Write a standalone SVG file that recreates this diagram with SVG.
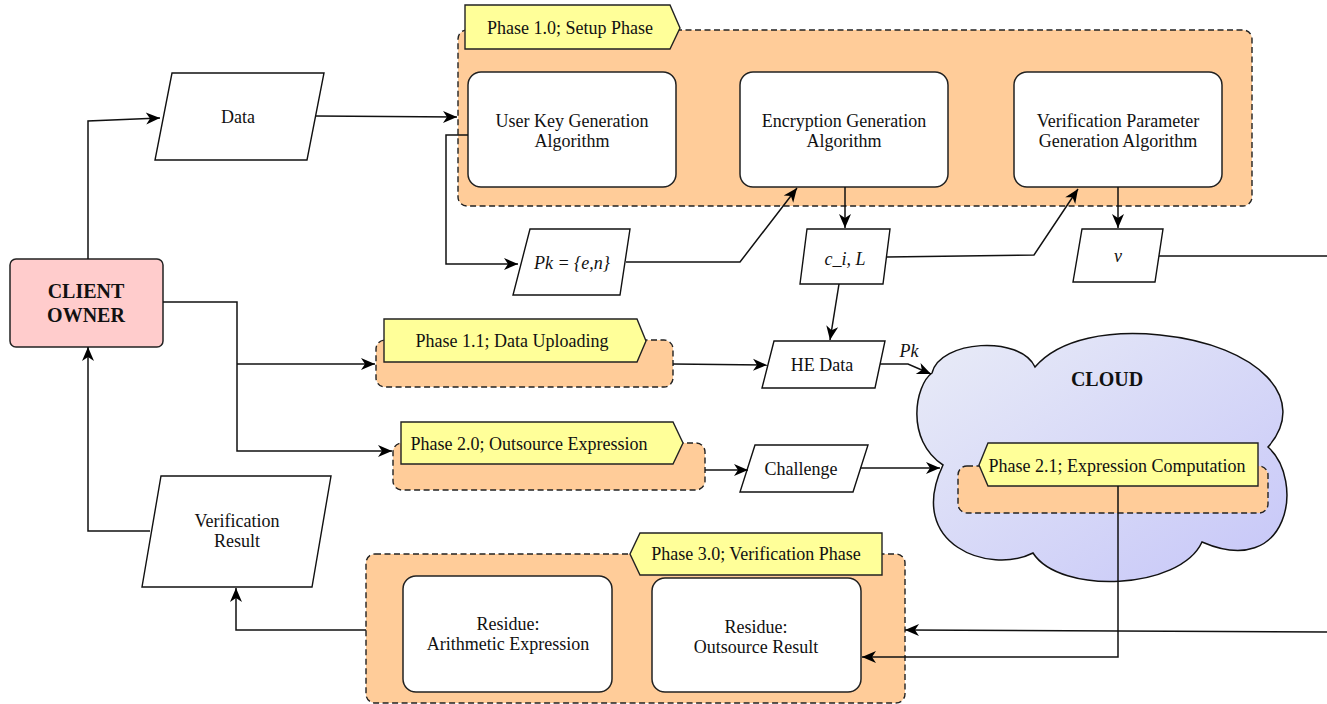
<svg xmlns="http://www.w3.org/2000/svg" width="1327" height="704" viewBox="0 0 1327 704">
<defs>
<style>
.t{font-family:"Liberation Serif","Times New Roman",Times,serif;font-size:18px;fill:#111;text-anchor:middle}
.i{font-style:italic}
.b{font-weight:bold;font-size:20px}
.grp{fill:#FFCC99;stroke:#222;stroke-width:1.4;stroke-dasharray:6 3.5}
.tab{fill:#FFFF99;stroke:#222;stroke-width:1.4}
.box{fill:#fff;stroke:#222;stroke-width:1.5}
.io{fill:#fff;stroke:#111;stroke-width:1.4}
.ln{fill:none;stroke:#111;stroke-width:1.5}
</style>
<marker id="ah" markerUnits="userSpaceOnUse" markerWidth="15" markerHeight="13" refX="14" refY="6" orient="auto" overflow="visible">
<path d="M0,0 L14,6 L0,12 L4,6 Z" fill="#000"/>
</marker>
<linearGradient id="cg" x1="0" y1="0" x2="1" y2="1">
<stop offset="0" stop-color="#E9ECF7"/>
<stop offset="1" stop-color="#C6C6F8"/>
</linearGradient>
</defs>
<rect width="1327" height="704" fill="#fff"/>

<g id="setup-phase">
<rect class="grp" x="458" y="30" width="794" height="176" rx="9"/>
<polygon class="tab" points="465,5 670,5 680,28 670,49 465,49"/>
<text class="t" x="570" y="34">Phase 1.0; Setup Phase</text>
</g>
<g id="user-key">
<rect class="box" x="468" y="72" width="208" height="115" rx="13"/>
<text class="t" x="572" y="127">User Key Generation</text>
<text class="t" x="572" y="147">Algorithm</text>
</g>
<g id="encryption">
<rect class="box" x="740" y="72" width="208" height="115" rx="13"/>
<text class="t" x="844" y="127">Encryption Generation</text>
<text class="t" x="844" y="147">Algorithm</text>
</g>
<g id="verif-param">
<rect class="box" x="1014" y="72" width="208" height="115" rx="13"/>
<text class="t" x="1118" y="127">Verification Parameter</text>
<text class="t" x="1118" y="147">Generation Algorithm</text>
</g>

<g id="client-owner">
<rect x="10" y="259" width="153" height="88" rx="6" fill="#FFCCCC" stroke="#222" stroke-width="1.5"/>
<text class="t b" x="86" y="298">CLIENT</text>
<text class="t b" x="86" y="322">OWNER</text>
</g>

<g id="data">
<polygon class="io" points="172,73 324,73 307,160 155,160"/>
<text class="t" x="238" y="123">Data</text>
</g>
<g id="pk">
<polygon class="io" points="530,229 630,229 620,295 513,295"/>
<text class="t i" x="572" y="269">Pk = {e,n}</text>
</g>
<g id="ci-l">
<polygon class="io" points="807,229 890,229 883,284 800,284"/>
<text class="t i" x="845" y="265">c_i, L</text>
</g>
<g id="v">
<polygon class="io" points="1082,229 1163,229 1155,282 1073,282"/>
<text class="t i" x="1118" y="262">v</text>
</g>
<g id="he-data">
<polygon class="io" points="774,341 885,341 875,388 762,388"/>
<text class="t" x="822" y="371">HE Data</text>
</g>

<g id="phase-1-1">
<rect class="grp" x="376" y="340" width="297" height="47" rx="9"/>
<polygon class="tab" points="384,319 637,319 646,341 637,362 384,362"/>
<text class="t" x="512" y="347">Phase 1.1; Data Uploading</text>
</g>
<g id="phase-2-0">
<rect class="grp" x="393" y="443" width="312" height="47" rx="9"/>
<polygon class="tab" points="401,422 673,422 683,443 673,464 401,464"/>
<text class="t" x="529" y="450">Phase 2.0; Outsource Expression</text>
</g>
<g id="challenge">
<polygon class="io" points="755,445 868,445 853,492 740,492"/>
<text class="t" x="801" y="475">Challenge</text>
</g>

<g id="cloud">
<path d="M932,373 C940,340 1020,335 1035,367 C1060,338 1110,330 1160,335 C1260,345 1310,400 1268,447 C1305,480 1290,580 1202,542 C1180,590 1060,595 1033,553 C990,575 905,545 943,465 C905,440 915,385 932,373 Z" fill="url(#cg)" stroke="#111" stroke-width="1.5"/>
<text class="t b" x="1107" y="386">CLOUD</text>
</g>
<g id="phase-2-1">
<rect class="grp" x="958" y="466" width="310" height="47" rx="9"/>
<polygon class="tab" points="988,443 1258,443 1258,486 988,486 979,465"/>
<text class="t" x="1117" y="472">Phase 2.1; Expression Computation</text>
</g>

<g id="phase-3-0">
<rect class="grp" x="366" y="554" width="539" height="149" rx="9"/>
<polygon class="tab" points="640,533 882,533 882,575 640,575 630,554"/>
<text class="t" x="756" y="560">Phase 3.0; Verification Phase</text>
</g>
<g id="residue-arith">
<rect class="box" x="403" y="576" width="209" height="116" rx="13"/>
<text class="t" x="508" y="630">Residue:</text>
<text class="t" x="508" y="650">Arithmetic Expression</text>
</g>
<g id="residue-out">
<rect class="box" x="652" y="578" width="209" height="114" rx="13"/>
<text class="t" x="756" y="633">Residue:</text>
<text class="t" x="756" y="653">Outsource Result</text>
</g>
<g id="verif-result">
<polygon class="io" points="161,476 331,476 312,587 142,587"/>
<text class="t" x="237" y="527">Verification</text>
<text class="t" x="237" y="547">Result</text>
</g>

<g id="connectors">
<path class="ln" d="M88,259 V121 L160,118" marker-end="url(#ah)"/>
<path class="ln" d="M316,116 L457,117" marker-end="url(#ah)"/>
<path class="ln" d="M468,135 H446 V264 H518" marker-end="url(#ah)"/>
<path class="ln" d="M626,262 H740 L797,188" marker-end="url(#ah)"/>
<path class="ln" d="M845,187 V228" marker-end="url(#ah)"/>
<path class="ln" d="M887,257 L1034,255 L1078,189" marker-end="url(#ah)"/>
<path class="ln" d="M1118,187 V228" marker-end="url(#ah)"/>
<path class="ln" d="M1159,256 H1327"/>
<path class="ln" d="M839,284 L830,340" marker-end="url(#ah)"/>
<path class="ln" d="M163,302 H237 V451 H392" marker-end="url(#ah)"/>
<path class="ln" d="M237,364 H375" marker-end="url(#ah)"/>
<path class="ln" d="M673,364 L767,365" marker-end="url(#ah)"/>
<path class="ln" d="M880,364 H908 L931,374" marker-end="url(#ah)"/>
<text class="t i" x="909" y="357">Pk</text>
<path class="ln" d="M705,470 H748" marker-end="url(#ah)"/>
<path class="ln" d="M860,468 H940" marker-end="url(#ah)"/>
<path class="ln" d="M1118,486 V657 H862" marker-end="url(#ah)"/>
<path class="ln" d="M1327,632 L905,630" marker-end="url(#ah)"/>
<path class="ln" d="M366,630 H236 V588" marker-end="url(#ah)"/>
<path class="ln" d="M150,531 H88 V347" marker-end="url(#ah)"/>
</g>
</svg>
